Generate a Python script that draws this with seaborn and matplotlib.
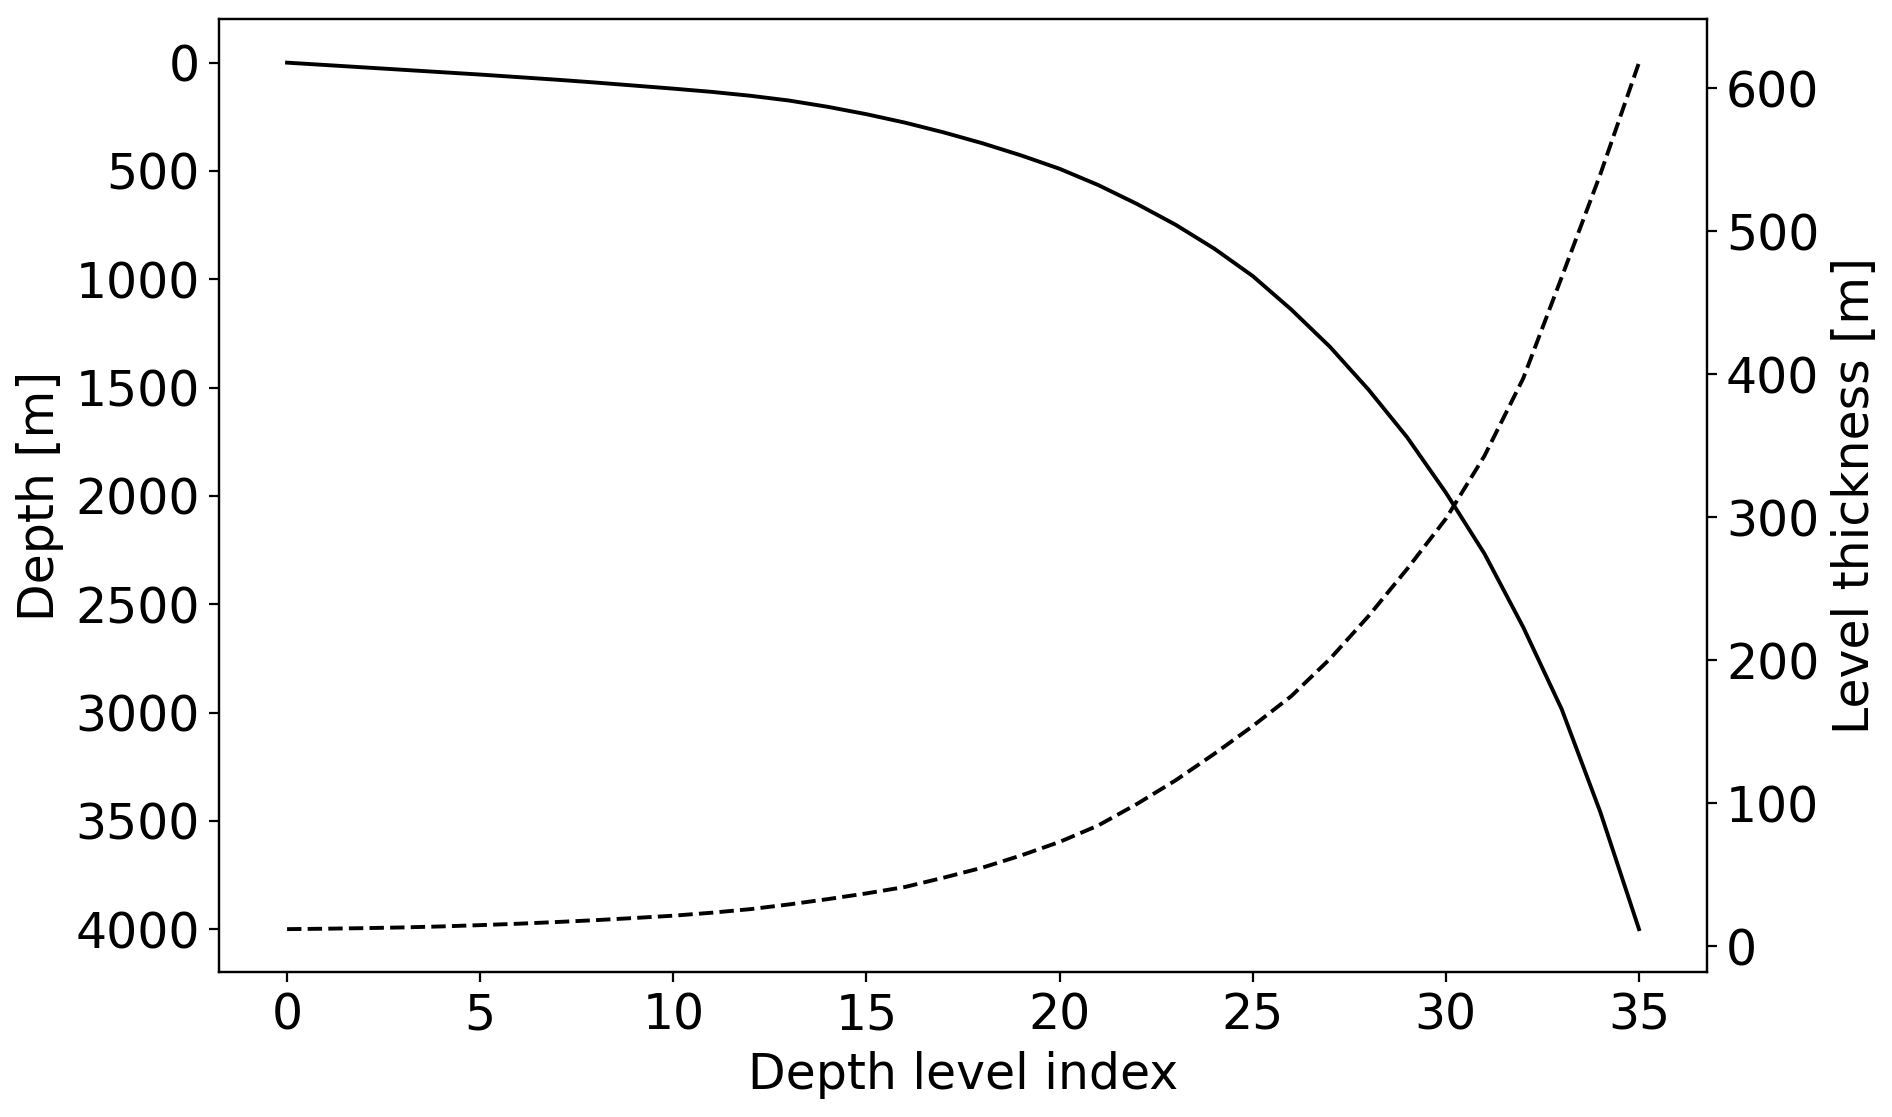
import numpy as np
import pandas as pd
import matplotlib
matplotlib.use("Agg")
import matplotlib.pyplot as plt
import seaborn as sns

# valores
nivel = list(range(36))
profundidad = [0, 11, 22, 33, 44, 55, 67, 79, 92, 106,
               120, 135, 153, 175, 204, 238, 277, 322, 372, 428,
               490, 565, 652, 748, 858, 985, 1140, 1312, 1510, 1730,
               1985, 2267, 2605, 2985, 3460, 4000]
espesor = [12, 12.3, 12.7, 13.2, 13.9, 14.8, 15.8, 17, 18.3, 19.8,
           21.4, 23.5, 26, 29.3, 33, 37, 41.5, 48, 55, 63.5,
           73, 84.5, 99.5, 116, 134.5, 154, 175, 201, 231, 264,
           299, 343, 397, 468, 540, 618]

df = pd.DataFrame({"nivel": nivel, "profundidad": profundidad, "espesor": espesor})

plt.rcParams['font.family'] = ['DejaVu Sans']
plt.rcParams['font.size'] = 17.6

fig, ax = plt.subplots(figsize=(9.46, 5.585), dpi=200)
fig.subplots_adjust(left=0.116, right=0.902, top=0.9827, bottom=0.1294)

sns.lineplot(data=df, x="nivel", y="profundidad", ax=ax, color="black", lw=1.4)
ax.invert_yaxis()
ax.set_xlabel("Depth level index")
ax.set_ylabel("Depth [m]")
ax.set_xticks([0, 5, 10, 15, 20, 25, 30, 35])

ax2 = ax.twinx()
sns.lineplot(data=df, x="nivel", y="espesor", ax=ax2, color="black", lw=1.4, linestyle="--")
ax2.set_ylabel("Level thickness [m]")
ax2.set_yticks([0, 100, 200, 300, 400, 500, 600])

plt.savefig("out.png", dpi=200)
